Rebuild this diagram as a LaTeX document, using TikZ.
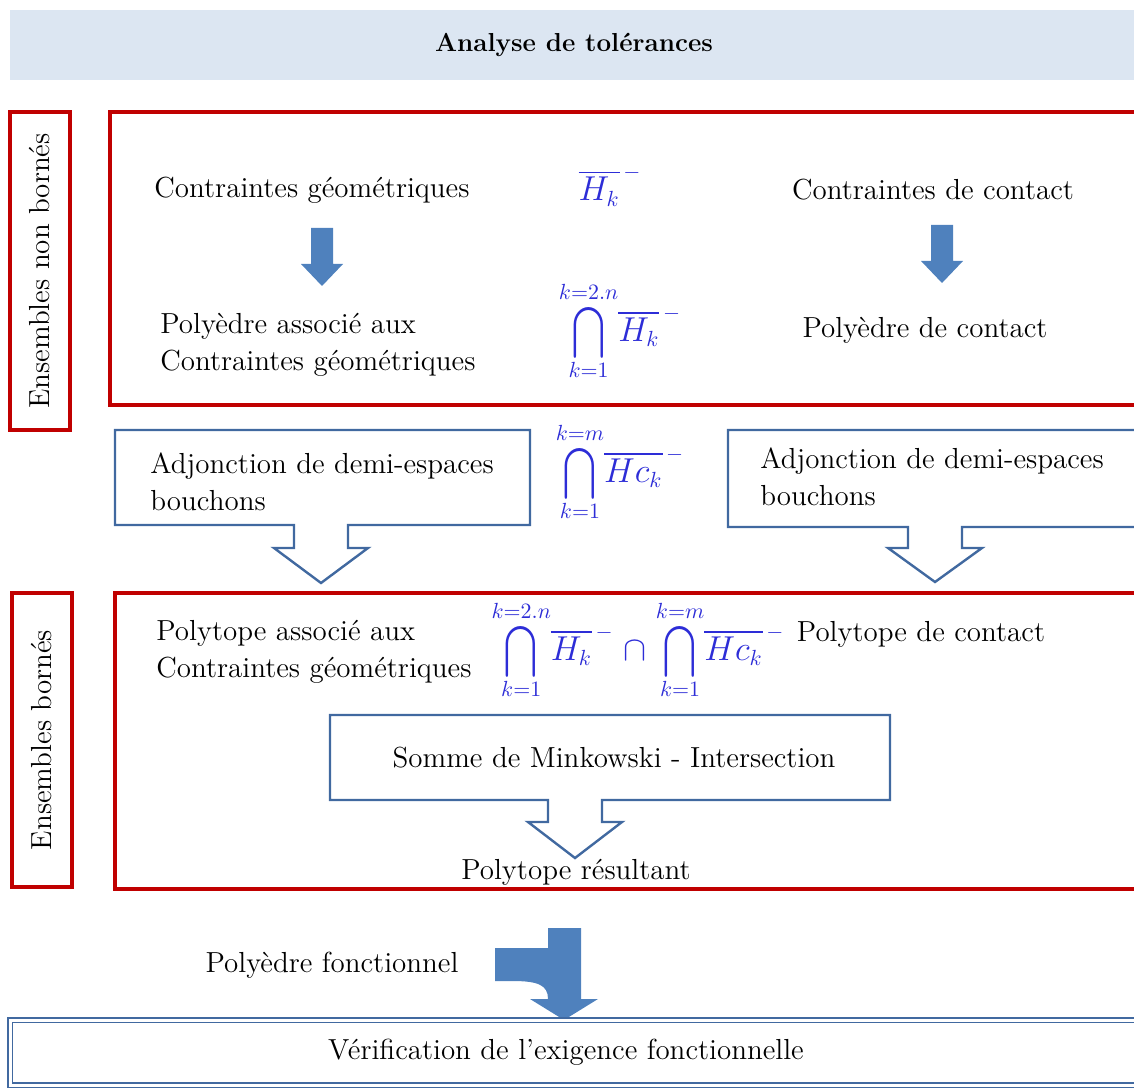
\documentclass[tikz,border=0pt]{standalone}
\usepackage{amsmath}
\definecolor{redb}{RGB}{192,0,0}
\definecolor{blueb}{RGB}{65,105,160}
\definecolor{arrowb}{RGB}{79,129,189}
\definecolor{titlef}{RGB}{220,230,242}
\definecolor{mathb}{RGB}{45,45,215}
\newcommand{\capstack}[2]{{\renewcommand{\arraystretch}{0.4}\begin{array}{@{}c@{}}\scriptstyle #2\\[0pt]\scalebox{0.85}[1.05]{$\displaystyle\bigcap$}\\[0pt]\scriptstyle #1\end{array}}}
\newcommand{\hspbar}[1]{\overline{#1}^{\,-}}
\begin{document}
\begin{tikzpicture}[x=0.5pt,y=-0.5pt,
  txt/.style={font=\fontsize{14.5}{18.5}\selectfont, inner sep=0pt},
  redbox/.style={draw=redb, line width=1.75pt},
  callout/.style={draw=blueb, line width=1.2pt, fill=white, line join=miter},
  mth/.style={text=mathb, inner sep=0pt, font=\fontsize{16}{19}\selectfont}]
\useasboundingbox (0,0) rectangle (1134,1090);
\clip (0,0) rectangle (1134,1090);
% title
\fill[titlef] (10,10) rectangle (1140,80);
\node[txt, font=\fontsize{13}{16}\selectfont\bfseries] (title) at (574,45) {Analyse de tol\'erances};
% first group
\draw[redbox] (10,112) rectangle (70,430);
\node[txt, rotate=90] (lab1) at (40,271) {Ensembles non born\'es};
\draw[redbox] (110,112) rectangle (1145,405);
\node[txt] (cg) at (312,190) {Contraintes g\'eom\'etriques};
\node[txt] (cc) at (933,190) {Contraintes de contact};
\node[mth] (f1) at (610,186) {$\hspbar{H_k}$};
\fill[arrowb] (311,228) -- (333,228) -- (333,264) -- (343,264) -- (322,286) -- (301,264) -- (311,264) -- cycle;
\fill[arrowb] (931,225) -- (953,225) -- (953,261) -- (963,261) -- (942,283) -- (921,261) -- (931,261) -- cycle;
\node[txt, anchor=west, align=left] (pa) at (160,345) {Poly\`edre associ\'e aux\\Contraintes g\'eom\'etriques};
\node[mth] (f2) at (620,333) {$\capstack{k=1}{k=2.n}\hspbar{H_k}$};
\node[txt] (pc) at (925,330) {Poly\`edre de contact};
% callouts
\draw[callout] (115,430) -- (530,430) -- (530,525) -- (348,525) -- (348,548) -- (368,548) -- (321,583) -- (274,548) -- (294,548) -- (294,525) -- (115,525) -- cycle;
\node[txt, anchor=west, align=left] (adj1) at (150,482) {Adjonction de demi-espaces\\bouchons};
\draw[callout] (728,430) -- (1145,430) -- (1145,527) -- (962,527) -- (962,548) -- (982,548) -- (935,582) -- (888,548) -- (908,548) -- (908,527) -- (728,527) -- cycle;
\node[txt, anchor=west, align=left] (adj2) at (760,477) {Adjonction de demi-espaces\\bouchons};
\node[mth] (f3) at (620,474) {$\capstack{k=1}{k=m}\hspbar{Hc_k}$};
% second group
\draw[redbox] (12,593) rectangle (72,887);
\node[txt, rotate=90] (lab2) at (42,740) {Ensembles born\'es};
\draw[redbox] (115,593) rectangle (1145,889);
\node[txt, anchor=west, align=left] (pt) at (156,652) {Polytope associ\'e aux\\Contraintes g\'eom\'etriques};
\node[mth] (f4) at (638,652) {$\capstack{k=1}{k=2.n}\hspbar{H_k}\;{\cap}\;\capstack{k=1}{k=m}\hspbar{Hc_k}$};
\node[txt] (ptc) at (921,634) {Polytope de contact};
\draw[callout] (330,715) -- (890,715) -- (890,800) -- (602,800) -- (602,822) -- (622,822) -- (575,858) -- (528,822) -- (548,822) -- (548,800) -- (330,800) -- cycle;
\node[txt] (mink) at (614,758) {Somme de Minkowski - Intersection};
\node[txt] (res) at (576,872) {Polytope r\'esultant};
% bottom
\node[txt] (pf) at (332,965) {Poly\`edre fonctionnel};
\fill[arrowb] (495,948) -- (548,948) -- (548,928) -- (581,928) -- (581,999) -- (598,999) -- (564,1020) -- (530,999) -- (548,999) .. controls (548,985) and (538,981) .. (512,981) -- (495,981) -- cycle;
\draw[draw=blueb, double=white, double distance=1.5pt, line width=0.6pt] (10,1020) rectangle (1145,1085);
\node[txt] (ver) at (566,1052) {V\'erification de l'exigence fonctionnelle};
\end{tikzpicture}
\end{document}
